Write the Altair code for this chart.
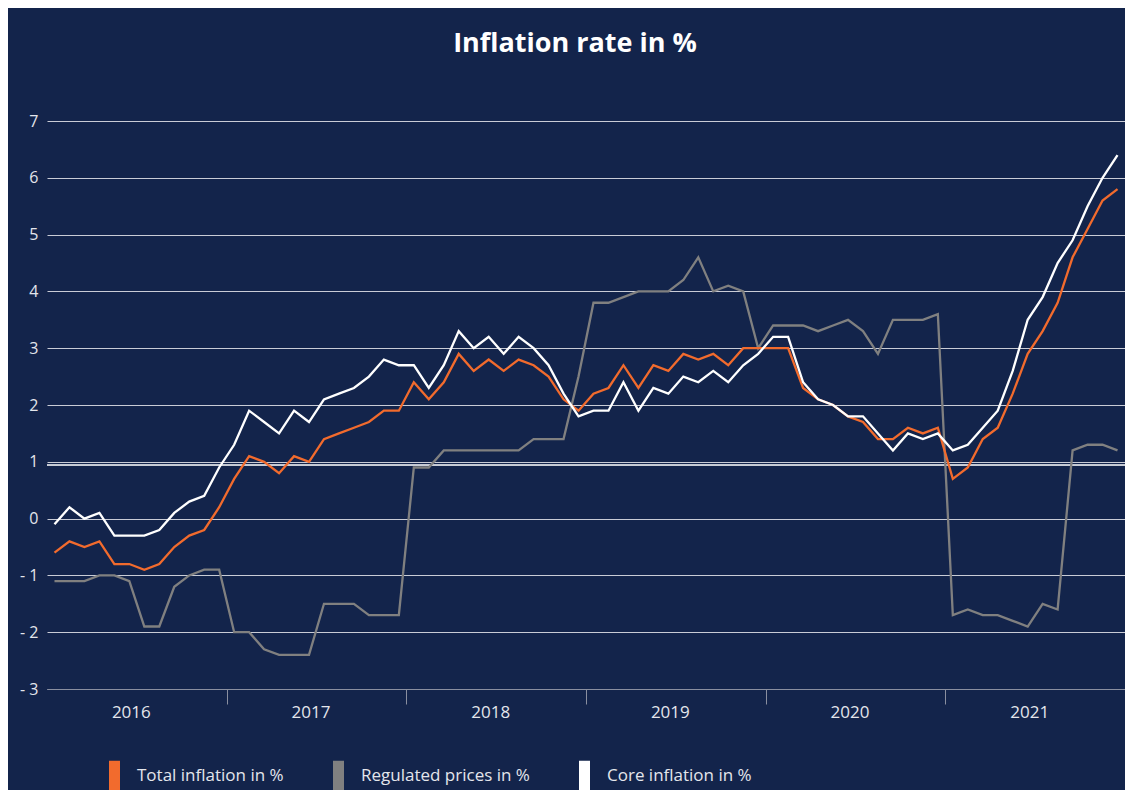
import altair as alt
import pandas as pd

# ---- data ----
months = [f"{y}-{m:02d}" for y in range(2016, 2022) for m in range(1, 13)]

total = [-0.6, -0.4, -0.5, -0.4, -0.8, -0.8, -0.9, -0.8, -0.5, -0.3, -0.2, 0.2,
         0.7, 1.1, 1.0, 0.8, 1.1, 1.0, 1.4, 1.5, 1.6, 1.7, 1.9, 1.9,
         2.4, 2.1, 2.4, 2.9, 2.6, 2.8, 2.6, 2.8, 2.7, 2.5, 2.1, 1.9,
         2.2, 2.3, 2.7, 2.3, 2.7, 2.6, 2.9, 2.8, 2.9, 2.7, 3.0, 3.0,
         3.0, 3.0, 2.3, 2.1, 2.0, 1.8, 1.7, 1.4, 1.4, 1.6, 1.5, 1.6,
         0.7, 0.9, 1.4, 1.6, 2.2, 2.9, 3.3, 3.8, 4.6, 5.1, 5.6, 5.8]

regulated = [-1.1, -1.1, -1.1, -1.0, -1.0, -1.1, -1.9, -1.9, -1.2, -1.0, -0.9, -0.9,
             -2.0, -2.0, -2.3, -2.4, -2.4, -2.4, -1.5, -1.5, -1.5, -1.7, -1.7, -1.7,
             0.9, 0.9, 1.2, 1.2, 1.2, 1.2, 1.2, 1.2, 1.4, 1.4, 1.4, 2.5,
             3.8, 3.8, 3.9, 4.0, 4.0, 4.0, 4.2, 4.6, 4.0, 4.1, 4.0, 3.0,
             3.4, 3.4, 3.4, 3.3, 3.4, 3.5, 3.3, 2.9, 3.5, 3.5, 3.5, 3.6,
             -1.7, -1.6, -1.7, -1.7, -1.8, -1.9, -1.5, -1.6, 1.2, 1.3, 1.3, 1.2]

core = [-0.1, 0.2, 0.0, 0.1, -0.3, -0.3, -0.3, -0.2, 0.1, 0.3, 0.4, 0.9,
        1.3, 1.9, 1.7, 1.5, 1.9, 1.7, 2.1, 2.2, 2.3, 2.5, 2.8, 2.7,
        2.7, 2.3, 2.7, 3.3, 3.0, 3.2, 2.9, 3.2, 3.0, 2.7, 2.2, 1.8,
        1.9, 1.9, 2.4, 1.9, 2.3, 2.2, 2.5, 2.4, 2.6, 2.4, 2.7, 2.9,
        3.2, 3.2, 2.4, 2.1, 2.0, 1.8, 1.8, 1.5, 1.2, 1.5, 1.4, 1.5,
        1.2, 1.3, 1.6, 1.9, 2.6, 3.5, 3.9, 4.5, 4.9, 5.5, 6.0, 6.4]

series_names = ["Total inflation in %", "Regulated prices in %", "Core inflation in %"]
series_colors = ["#f26b2d", "#808080", "#ffffff"]
year_ticks = [2017, 2018, 2019, 2020, 2021]
year_labels = [2016.5, 2017.5, 2018.5, 2019.5, 2020.5, 2021.5]
y_ticks = [-3, -2, -1, 0, 1, 2, 3, 4, 5, 6, 7]

# ---- table ----
rows = []
for name, vals in [(series_names[1], regulated), (series_names[0], total), (series_names[2], core)]:
    for m, v in zip(months, vals):
        yr, mo = int(m[:4]), int(m[5:])
        rows.append({"month": m, "t": yr + (mo - 0.5) / 12, "value": v, "series": name})
df = pd.DataFrame(rows)

BG = "#13244b"
GRID = "#c9ccd6"
TXT = "#e4e6ec"
FONT = "Open Sans"

x_axis = alt.Axis(
    values=sorted(year_ticks + year_labels),
    labelExpr="datum.value % 1 == 0.5 ? floor(datum.value) : ''",
    tickOpacity={"condition": {"test": "datum.value % 1 == 0", "value": 1}, "value": 0},
    tickSize=15, tickColor="#8a8fa0", tickWidth=1,
    domainColor="#8a8fa0", domainWidth=1,
    grid=False, title=None, labelFontSize=17, labelColor=TXT, labelFont=FONT,
    labelPadding=0, labelFlush=False, labelOffset=-6,
)

y_axis = alt.Axis(
    values=y_ticks,
    labelExpr="datum.value < 0 ? '- ' + abs(datum.value) : '' + datum.value",
    grid=True, gridColor=GRID, gridWidth=1, ticks=False, domain=False,
    title=None, labelFontSize=16, labelColor=TXT, labelFont=FONT, labelPadding=9,
)

lines = alt.Chart(df).mark_line(strokeWidth=2.3, strokeJoin="miter").encode(
    x=alt.X("t:Q", scale=alt.Scale(domain=[2016, 2022], nice=False, zero=False), axis=x_axis),
    y=alt.Y("value:Q", scale=alt.Scale(domain=[-3, 7], nice=False), axis=y_axis),
    color=alt.Color(
        "series:N",
        scale=alt.Scale(domain=series_names, range=series_colors),
        legend=alt.Legend(
            title=None, orient="none", legendX=47, legendY=634, direction="horizontal",
            symbolType="M0,-1L0,1", symbolSize=900, symbolStrokeWidth=11,
            labelFontSize=17, labelColor=TXT, labelFont=FONT, labelOffset=2,
            columnPadding=32, padding=0, labelLimit=400,
        ),
    ),
    detail="series:N",
)

extra = alt.Chart(df).mark_rule(color=GRID, strokeWidth=1, yOffset=3.5).encode(y=alt.datum(1))

chart = alt.layer(extra, lines).properties(
    width=1078,
    height=568,
    background=BG,
    padding={"left": 39, "top": 113, "right": 0, "bottom": 101},
    autosize=alt.AutoSizeParams(type="none"),
    title=alt.TitleParams(
        "Inflation rate in %", fontSize=27, fontWeight="bold", color="#ffffff",
        font=FONT, anchor="middle", frame="group", offset=55, dx=-11,
    ),
).configure_view(stroke=None)

chart.save("out.html", embed_options={"renderer": "svg", "actions": False})
